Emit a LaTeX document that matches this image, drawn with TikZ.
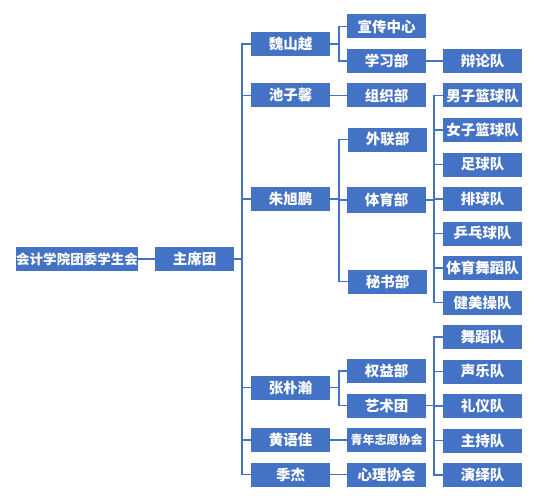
\documentclass[tikz,border=0pt]{standalone}
\usepackage{fontspec}
\setmainfont{Noto Sans CJK SC}
\usepackage{xcolor}
\usepackage{tikz}
\usetikzlibrary{positioning}
\definecolor{orgblue}{RGB}{68,114,196}

\begin{document}
\begin{tikzpicture}[x=1pt, y=-1pt,
  box/.style={rectangle, fill=orgblue, text=white, inner sep=0pt, outer sep=0pt,
              minimum width=#1, minimum height=24pt,
              font=\fontsize{14.5}{16}\selectfont\bfseries},
  box/.default=79pt,
  link/.style={draw=orgblue, line width=1.1pt}
]
  \useasboundingbox (0,0) rectangle (556,500);
  % root and presidium
  \node[box=122pt, font=\fontsize{13.5}{15}\selectfont\bfseries] (root) at (77,259) {会计学院团委学生会};
  \node[box] (zxt) at (194.5,259) {主席团};
  % level 2
  \node[box] (wsy) at (290.5,44)    {魏山越};
  \node[box] (czx) at (290.5,95.5)  {池子馨};
  \node[box] (zxp) at (290.5,199)   {朱旭鹏};
  \node[box] (zph) at (290.5,387.5) {张朴瀚};
  \node[box] (hyj) at (290.5,440)   {黄语佳};
  \node[box] (jj)  at (290.5,474.5) {季杰};
  % level 3
  \node[box] (xczx) at (386.5,26.5)  {宣传中心};
  \node[box] (xxb)  at (386.5,61)    {学习部};
  \node[box] (zzb)  at (386.5,95.5)  {组织部};
  \node[box] (wlb)  at (387.5,139.5) {外联部};
  \node[box, minimum height=26pt] (tyb) at (386.5,200) {体育部};
  \node[box] (msb)  at (387.5,281.5) {秘书部};
  \node[box] (qyb)  at (386.5,371)   {权益部};
  \node[box] (yst)  at (386.5,405.5) {艺术团};
  \node[box, font=\fontsize{12}{14}\selectfont\bfseries] (qnzy) at (386.5,440) {青年志愿协会};
  \node[box] (xlxh) at (386.5,474.5) {心理协会};
  % level 4
  \node[box] (bld) at (482.5,61) {辩论队};
  \node[box] (nzlq) at (482.5,95.5) {男子篮球队};
  \node[box, below=10.5pt of nzlq] (nvlq) {女子篮球队};
  \node[box, below=10.5pt of nvlq] (zqd)  {足球队};
  \node[box, below=10.5pt of zqd]  (pqd)  {排球队};
  \node[box, below=10.5pt of pqd]  (ppq)  {乒乓球队};
  \node[box, below=10.5pt of ppq]  (tywd) {体育舞蹈队};
  \node[box, below=10.5pt of tywd] (jmc)  {健美操队};
  \node[box, below=10.5pt of jmc]  (wdd)  {舞蹈队};
  \node[box, below=10.5pt of wdd]  (syd)  {声乐队};
  \node[box, below=10.5pt of syd]  (lyd)  {礼仪队};
  \node[box, below=10.5pt of lyd]  (zcd)  {主持队};
  \node[box, below=10.5pt of zcd]  (yyd)  {演绎队};
  % connectors
  \draw[link] (root) -- (zxt);
  \foreach \c in {wsy,czx,zxp,zph,hyj,jj}
    \draw[link] (zxt.east) -- ++(8,0) |- (\c.west);
  \foreach \c in {xczx,xxb}
    \draw[link] (wsy.east) -- ++(9,0) |- (\c.west);
  \draw[link] (czx) -- (zzb);
  \foreach \c in {wlb,tyb,msb}
    \draw[link] (zxp.east) -- ++(9,0) |- (\c.west);
  \foreach \c in {qyb,yst}
    \draw[link] (zph.east) -- ++(9,0) |- (\c.west);
  \draw[link] (hyj) -- (qnzy);
  \draw[link] (jj) -- (xlxh);
  \draw[link] (xxb) -- (bld);
  \foreach \c in {nzlq,nvlq,zqd,pqd,ppq,tywd,jmc}
    \draw[link] (tyb.east) -- ++(8,0) |- (\c.west);
  \foreach \c in {wdd,syd,lyd,zcd,yyd}
    \draw[link] (yst.east) -- ++(8,0) |- (\c.west);
\end{tikzpicture}
\end{document}
